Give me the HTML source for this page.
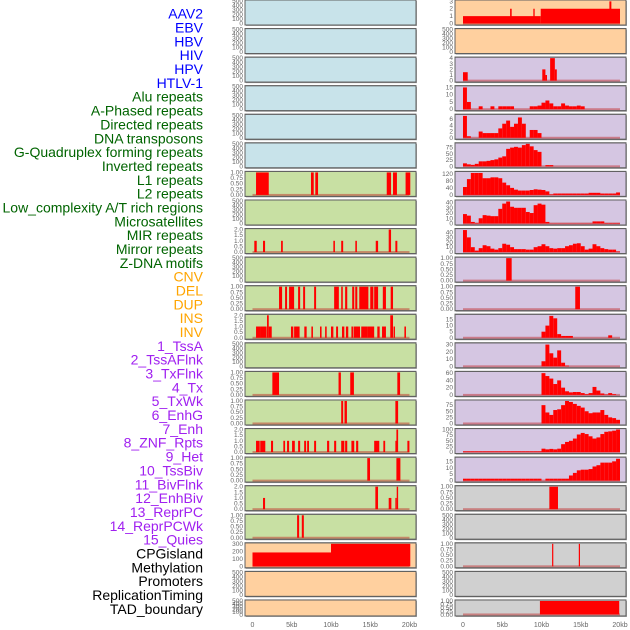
<!DOCTYPE html>
<html><head><meta charset="utf-8"><style>
html,body{margin:0;padding:0;background:#fff;}
svg{display:block;font-family:"Liberation Sans",sans-serif;}
</style></head><body>
<svg id="chart" width="630" height="630" viewBox="0 0 630 630" xmlns="http://www.w3.org/2000/svg"></svg>
<script>
// ---- labels ----
const trackLabels = ["AAV2","EBV","HBV","HIV","HPV","HTLV-1","Alu repeats","A-Phased repeats","Directed repeats","DNA transposons","G-Quadruplex forming repeats","Inverted repeats","L1 repeats","L2 repeats","Low_complexity A/T rich regions","Microsatellites","MIR repeats","Mirror repeats","Z-DNA motifs","CNV","DEL","DUP","INS","INV","1_TssA","2_TssAFlnk","3_TxFlnk","4_Tx","5_TxWk","6_EnhG","7_Enh","8_ZNF_Rpts","9_Het","10_TssBiv","11_BivFlnk","12_EnhBiv","13_ReprPC","14_ReprPCWk","15_Quies","CPGisland","Methylation","Promoters","ReplicationTiming","TAD_boundary"];
const labelGroups = [6,13,5,15,5];
const groupColors = ["#0000ff","#006400","#ffa500","#a020f0","#000000"];
const xTickValues = [0,5,10,15,20];
const xTickLabels = ["0","5kb","10kb","15kb","20kb"];

// ---- left column data (segments [startKb,endKb,value]) ----
const L7 = [[0.45,2.07,1],[7.45,7.8,1],[8.0,8.35,1],[17.1,17.65,1],[17.9,18.4,1],[19.5,20.1,1]];
const L9 = [[0.23,0.54,1],[1.34,1.6,1],[3.64,3.86,1],[10.3,10.5,1],[11.3,11.55,1],[13.1,13.3,1],[15.7,16.0,1],[17.35,17.65,2],[18.2,18.45,1]];
const L11 = [[3.38,3.77,1],[4.15,4.4,1],[4.66,5.3,1],[5.81,6.07,1],[6.45,6.7,1],[7.85,8.1,1],[10.4,11.0,1],[11.3,11.5,1],[11.8,12.07,1],[12.7,12.96,1],[13.09,13.35,1],[13.6,14.76,1],[15.0,15.4,1],[15.5,16.0,1],[16.6,17.0,1],[17.6,17.9,1]];
const L12 = [[0.45,0.96,1],[0.96,1.8,1],[1.85,2.07,2],[2.07,2.45,1],[4.9,5.2,1],[5.3,6.0,1],[6.6,6.9,1],[7.5,7.7,1],[8.6,8.8,1],[9.25,9.45,1],[10.0,10.3,1],[10.65,10.9,1],[11.4,11.7,1],[11.9,12.2,1],[12.6,12.8,1],[12.87,13.7,1],[13.85,14.6,1],[14.6,15.5,1],[15.9,16.2,1],[16.5,17.0,1],[17.55,17.9,2],[17.97,18.15,1],[19.35,19.55,1]];
const L14 = [[2.53,3.38,1],[10.96,11.26,1],[12.45,12.92,1],[18.45,18.8,1]];
const L15 = [[11.3,11.55,1],[11.72,12.03,1],[18.2,18.55,1]];
const L16 = [[0.45,0.83,1],[0.87,1.0,1],[1.05,1.63,1],[2.36,2.62,1],[3.93,4.15,1],[4.4,4.66,1],[5.04,5.39,1],[5.81,6.07,1],[6.58,6.83,1],[6.96,7.2,1],[7.85,8.1,1],[9.5,9.77,1],[10.4,10.66,1],[11.3,11.7,1],[11.8,12.07,1],[12.6,12.96,1],[13.2,13.47,1],[15.5,16.15,1],[16.67,16.9,1],[18.2,18.33,1],[18.33,18.55,2],[19.73,19.99,1]];
const L17 = [[14.62,14.97,1],[18.33,18.84,1]];
const L18 = [[1.34,1.6,1],[15.65,15.99,2],[17.35,17.69,1],[18.2,18.37,1],[18.37,18.55,2]];
const L19 = [[5.68,5.94,1],[6.28,6.54,1]];
const L20 = [[0,10,185],[10,20.1,300]];

// ---- right column data ----
const R1 = [[0,9.9,1],[9.9,20,2],[6.0,6.2,2],[8.96,9.13,2],[18.65,18.9,3]];
const R3 = [[0,0.6,1.5],[10.1,10.5,2],[10.5,10.7,1],[11.1,11.7,4],[11.7,11.95,2]];
const R4 = [15,5,0,0,2,0,0,2,0,2,2,2,2,0,0,0,0,2,2,2.5,4.5,6,4,2,2,4,2.5,2,2,2.5,2,0,0,0,0,0,0,0,0,0];
const R5 = [7,0.5,0,0,2,1.5,1.5,1.5,1.5,3,4.5,5.5,3.5,4.5,6.5,4.5,0,2.5,2.5,1.5,0,0,0,0,0,0,0,0,0,0,0,0,0,0,0,0,0,0,0,0];
const R6 = [12,8,6,10,20,20,22,25,28,35,40,70,75,78,75,85,90,80,65,58,0,5,5,0,0,0,0,0,0,0,0,0,0,0,0,0,0,0,0,0];
const R7 = [45,90,125,125,125,95,95,100,100,95,70,55,40,30,25,25,25,28,32,30,28,20,3,8,8,8,8,8,8,8,8,8,12,12,12,8,8,8,8,14];
const R8 = [18,15,3,1,10,16,15,14,14,28,38,42,32,30,30,30,22,20,35,38,36,3,0.5,0.5,0.5,0.5,0.5,0.5,0.5,0.5,0.5,0.5,0.5,4,4,4,1,1,1,1];
const R9 = [45,30,10,3,8,14,12,7,5,8,17,15,10,6,6,6,5,5,10,12,16,12,8,7,8,8,12,14,17,18,12,5,7,16,12,8,6,5,5,1];
const R10 = [[5.5,6.2,1]];
const R11 = [[14.3,14.9,1]];
const R12 = [0,0,0,0,0,0,0,0,0,0,0,0,0,0,0,0,0,0,0,0,5,10,18,16,3,1.5,1.5,1.5,0,0,0,0,0,0,0,0,0,2,0,0];
const R13 = [0,0,0,0,0,0,0,0,0,0,0,0,0,0,0,0,0,0,0,0,7,30,18,12,22,5,1,0,0,0,0,0,0,0,0,0,0,0,0,0];
const R14 = [0,0,0,0,0,0,0,0,0,0,0,0,0,0,0,0,0,0,0,0,60,52,45,30,40,20,10,7,8,8,5,2,5,22,12,4,1,5,2,0];
const R15 = [0,0,0,0,0,0,0,0,0,0,0,0,0,0,0,0,0,0,0,0,75,45,35,55,58,75,92,88,80,72,65,50,42,45,45,55,35,25,22,15];
const R16 = [3,3,3,3,3,3,3,3,3,3,3,3,3,3,3,3,3,3,3,3,15,12,14,12,15,35,45,50,60,78,85,80,70,60,65,80,90,92,95,100];
const R17 = [1.5,1.5,1.5,1.5,1.5,1.5,1.5,1.5,1.5,1.5,1.5,1.5,1.5,1.5,1.5,1.5,1.5,1.5,1.5,1.5,0,1.5,1.5,1.5,1.5,1.5,1.5,4,6,8,8.5,8.5,9,11,12,14,14,14,15,17];
const R18 = [[11.0,12.1,1]];
const R20 = [[11.35,11.5,1],[14.75,14.9,1]];
const R22 = [[9.8,19.9,1]];

const BLUE="#c8e3ea",GREEN="#c8e0a3",PEACH="#ffd09f",PURP="#d5c6e2",GREY="#d0d0d0";
const T500=[0,100,200,300,400,500], T1=[0,0.25,0.5,0.75,1], T2=[0,0.5,1,1.5,2];
const T1L=["0.00","0.25","0.50","0.75","1.00"], T2L=["0.0","0.5","1.0","1.5","2.0"];
// [bg, ticks, tickLabels, yMax, segs, bins]
const leftPanels = [
 [BLUE,T500,null,500,null,null],[BLUE,T500,null,500,null,null],[BLUE,T500,null,500,null,null],
 [BLUE,T500,null,500,null,null],[BLUE,T500,null,500,null,null],[BLUE,T500,null,500,null,null],
 [GREEN,T1,T1L,1,L7,null],[GREEN,T500,null,500,null,null],[GREEN,T2,T2L,2,L9,null],
 [GREEN,T500,null,500,null,null],[GREEN,T1,T1L,1,L11,null],[GREEN,T2,T2L,2,L12,null],
 [GREEN,T500,null,500,null,null],[GREEN,T1,T1L,1,L14,null],[GREEN,T1,T1L,1,L15,null],
 [GREEN,T2,T2L,2,L16,null],[GREEN,T1,T1L,1,L17,null],[GREEN,T2,T2L,2,L18,null],
 [GREEN,T1,T1L,1,L19,null],[PEACH,[0,100,200,300],null,300,L20,null],
 [PEACH,T500,null,500,null,null],[PEACH,T500,null,500,null,null]
];
const rightPanels = [
 [PEACH,[0,1,2,3],null,3.05,R1,null],[PEACH,T500,null,500,null,null],
 [PURP,[0,1,2,3,4],null,4,R3,null],[PURP,[0,5,10,15],null,15.5,null,R4],
 [PURP,[0,2,4,6],null,7.2,null,R5],[PURP,[0,25,50,75],null,90,null,R6],
 [PURP,[0,40,80,120],null,128,null,R7],[PURP,[0,10,20,30,40],null,43,null,R8],
 [PURP,[0,10,20,30,40],null,46,null,R9],[PURP,T1,T1L,1,R10,null],
 [PURP,T1,T1L,1,R11,null],[PURP,[0,5,10,15],null,18.5,null,R12],
 [PURP,[0,10,20,30],null,31,null,R13],[PURP,[0,20,40,60],null,62,null,R14],
 [PURP,[0,25,50,75],null,92,null,R15],[PURP,[0,25,50,75,100],null,100,null,R16],
 [PURP,[0,5,10,15],null,17.5,null,R17],[GREY,T1,T1L,1,R18,null],
 [GREY,T500,null,500,null,null],[GREY,T1,T1L,1,R20,null],
 [GREY,T500,null,500,null,null],[GREY,T1,T1L,1,R22,null]
];

const NS="http://www.w3.org/2000/svg";
const svg=document.getElementById('chart');
function mk(tag,attrs,parent){const e=document.createElementNS(NS,tag);for(const k in attrs)e.setAttribute(k,attrs[k]);(parent||svg).appendChild(e);return e;}

// labels
let li=0;
labelGroups.forEach((n,g)=>{for(let j=0;j<n;j++){
  const t=mk('text',{x:203,y:15+li*13.84,'text-anchor':'end','dominant-baseline':'middle','font-size':14,fill:groupColors[g]});
  t.textContent=trackLabels[li];
  
  
  li++;
}});

function drawColumn(panels,px0,px1,zx,col){
  const kx=v=>zx+v*(157/20);
  panels.forEach((p,i)=>{
    const [bg,ticks,tl,yMax,segs,bins]=p;
    const top=i*28.57, h=(i===21?16:25), bot=top+h;
    const y0=bot-1.5, y1=top+1;
    const ky=v=>y0-(v/yMax)*(y0-y1);
    const g=mk('g',{});
    
    
    mk('rect',{x:px0+1,y:top+1,width:px1-px0,height:h,fill:'#aaa'},g);
    mk('rect',{x:px0,y:top,width:px1-px0,height:h,fill:bg,stroke:'#606060','stroke-width':1},g);
    const clipId='c'+col+i;
    const cp=mk('clipPath',{id:clipId},g);mk('rect',{x:px0,y:top,width:px1-px0,height:h},cp);
    const mg=mk('g',{'clip-path':'url(#'+clipId+')'},g);
    if(segs||bins){const b=mk('rect',{x:kx(0),y:y0-1,width:kx(20)-kx(0),height:2,fill:'rgba(190,30,30,0.45)'},mg);
      }
    const bar=(a,bb,v)=>{if(v<=0)return;const r=mk('rect',{x:kx(a),y:ky(v),width:Math.max(1.2,kx(bb)-kx(a)),height:y0-ky(v),fill:'#ff0000'},mg);
      };
    if(segs)segs.forEach(s=>bar(s[0],s[1],s[2]));
    if(bins)bins.forEach((v,k)=>bar(k*0.5,(k+1)*0.5,v));
    mk('rect',{x:px0,y:top,width:px1-px0,height:h,fill:'none',stroke:'#606060','stroke-width':1},g);
    ticks.forEach((tv,k)=>{
      const yy=(ticks===T500&&i!==21)?ky(tv):(i===21?top+h-1-k*(h-2)/(ticks.length-1):ky(tv));
      const t=mk('text',{x:px0-2,y:yy+2,'text-anchor':'end','font-size':6.5,fill:'#666'},g);
      t.textContent=tl?tl[k]:String(tv);
      
    });
  });
  xTickValues.forEach((v,k)=>{const t=mk('text',{x:kx(v),y:627,'text-anchor':'middle','font-size':7,fill:'#666'});
    t.textContent=xTickLabels[k];
    });
}
drawColumn(leftPanels,245,416,252.5,'left');
drawColumn(rightPanels,455,626,463,'right');
</script>
</body></html>
